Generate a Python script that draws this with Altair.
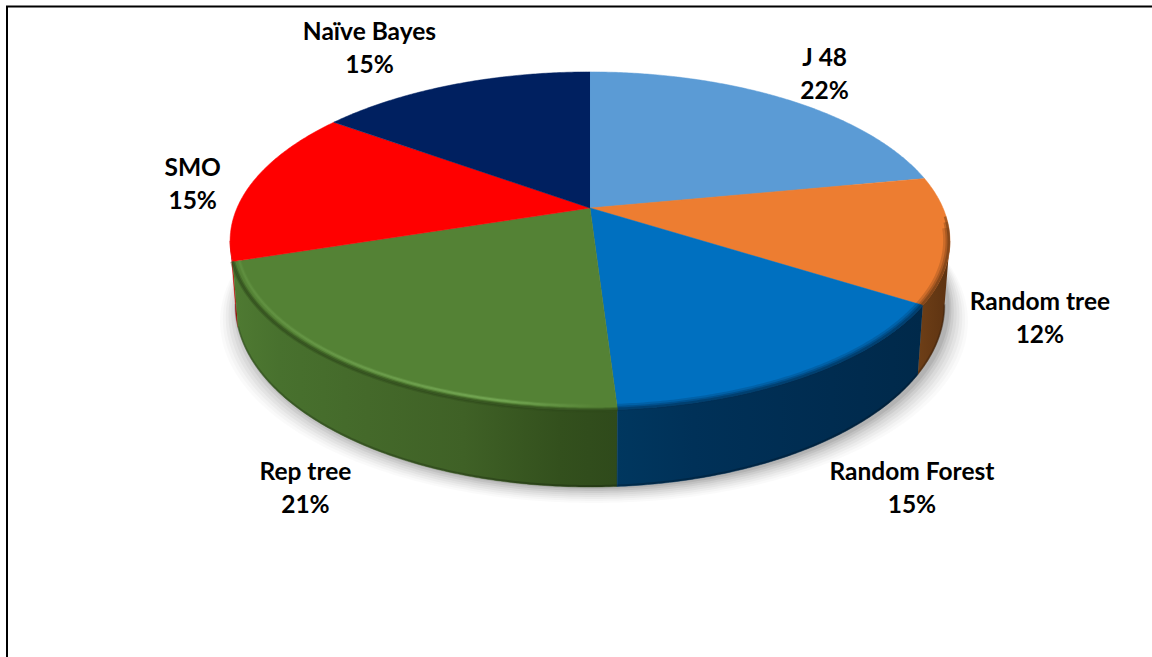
import numpy as np
import pandas as pd
import altair as alt

# Classifier shares, clockwise from twelve o'clock
categories = ["J 48", "Random tree", "Random Forest", "Rep tree", "SMO", "Naïve Bayes"]
shares = [22, 12, 15, 21, 15, 15]
top_colors = ["#5b9bd5", "#ed7d31", "#0070c0", "#548235", "#ff0000", "#002060"]

# Page geometry of the tilted disc
W, H = 1152, 657
CX, CY = 590.0, 208.0
RX, RY, TILT = 353.0, 162.6, 0.195
DEPTH, BASE_SHRINK = 62.0, 0.985

# Label placement relative to the rim point of each slice's middle angle
label_nudge = [(39, -40), (90, 63), (106, 97), (-48, 105), (-59, -14), (-84, -52)]
LINE_GAP = 33

x_scale = alt.Scale(domain=[0, W], nice=False, zero=False)
y_scale = alt.Scale(domain=[H, 0], nice=False, zero=False)


def top_xy(deg, r=1.0):
    t = np.radians(deg)
    u, v = r * np.sin(t), r * np.cos(t)
    w = 1 + TILT * v
    return CX + RX * u / w, CY - RY * v / w


def base_xy(deg, r=1.0, grow=0.0):
    t = np.radians(deg)
    u, v = r * np.sin(t), r * np.cos(t)
    w = 1 + TILT * v
    return CX + (1 + grow) * BASE_SHRINK * RX * u / w, CY - RY * v / w + DEPTH / w


def arc_angles(a, b):
    return np.linspace(a, b, max(int(abs(b - a) * 2), 2))


def path_frame(xs, ys):
    return pd.DataFrame({"x": xs, "y": ys, "i": np.arange(len(xs))})


def path_layer(xs, ys, **mark):
    return (
        alt.Chart(path_frame(xs, ys))
        .mark_line(interpolate="linear", **mark)
        .encode(
            x=alt.X("x:Q", scale=x_scale, axis=None),
            y=alt.Y("y:Q", scale=y_scale, axis=None),
            order="i:Q",
        )
    )


def h_gradient(stops):
    return alt.Gradient(
        gradient="linear",
        x1=0, x2=1, y1=0, y2=0,
        stops=[alt.GradientStop(offset=o, color=c) for o, c in stops],
    )


edges = np.concatenate([[0], np.cumsum(shares)]) * 3.6
layers = []

# Soft ground shadow: stacked translucent copies of the base outline
ring = np.linspace(0, 360, 361)
for grow, lift, alpha in [
    (0.055, 16, 0.02), (0.047, 14, 0.025), (0.039, 12, 0.03), (0.031, 10, 0.035),
    (0.023, 8, 0.04), (0.015, 6, 0.05), (0.008, 4, 0.06), (0.003, 2, 0.07),
]:
    sx, sy = base_xy(ring, grow=grow)
    layers.append(path_layer(sx + 4, sy + lift, fill="#000000", fillOpacity=alpha, strokeOpacity=0))

# Visible side walls run between the two silhouette angles
FRONT_START, FRONT_END = 101.2, 258.8
wall_fills = {
    1: [(0, "#6e3f17"), (1, "#5c3211")],
    2: [(0, "#00375f"), (0.25, "#003158"), (0.7, "#002c50"), (1, "#00294a")],
    3: [(0, "#4f7a32"), (0.12, "#48712e"), (0.35, "#44692a"), (0.6, "#3f6126"), (0.85, "#33501d"), (1, "#2f4a1b")],
    4: [(0, "#cc0000"), (1, "#cc0000")],
}
for idx in [4, 1, 3, 2]:
    a = max(edges[idx], FRONT_START)
    b = min(edges[idx + 1], FRONT_END)
    ang = arc_angles(a, b)
    tx, ty = top_xy(ang)
    bx, by = base_xy(ang[::-1])
    fill = h_gradient(wall_fills[idx])
    layers.append(path_layer(np.r_[tx, bx], np.r_[ty, by], fill=fill, stroke=fill, strokeWidth=0.5))
    # Dark soft lower edge of the wall
    layers.append(path_layer(bx, by - 1, stroke="#000000", strokeOpacity=0.2, strokeWidth=2))

# Top surface wedges, each from the disc centre out along its arc
for idx, color in enumerate(top_colors):
    ang = arc_angles(edges[idx], edges[idx + 1])
    tx, ty = top_xy(ang)
    layers.append(path_layer(np.r_[CX, tx], np.r_[CY, ty], fill=color, stroke=color, strokeWidth=0.5))

# Bevel on the rim: shading over the orange and blue, a highlight over the green
for idx, shade in [(1, "#5c3211"), (2, "#002c50")]:
    for width, alpha, start in [(7, 0.22, 97), (4.5, 0.3, 95), (2.5, 0.45, 93)]:
        ang = arc_angles(max(edges[idx], start), edges[idx + 1])
        tx, ty = top_xy(ang, r=1 - width / 2 / 400)
        layers.append(path_layer(tx, ty, stroke=shade, strokeOpacity=alpha, strokeWidth=width))

ang = arc_angles(edges[3], edges[4])
tx, ty = top_xy(ang, r=1.0)
for width, alpha in [(5, 0.4), (2.5, 0.6)]:
    layers.append(path_layer(tx, ty, stroke="#2f4a1b", strokeOpacity=alpha, strokeWidth=width))
hx, hy = top_xy(ang, r=0.983)
highlight = h_gradient([(0, "#5f8f3f"), (0.4, "#6d9f4d"), (0.7, "#74a854"), (0.95, "#558235"), (1, "#548235")])
layers.append(path_layer(hx, hy, stroke=highlight, strokeWidth=4, strokeOpacity=0.35))
layers.append(path_layer(hx, hy, stroke=highlight, strokeWidth=2, strokeOpacity=0.85))

# Two-line labels: classifier name above its percentage
mids = (edges[:-1] + edges[1:]) / 2
rx_pts, ry_pts = top_xy(mids)
labels = pd.DataFrame({
    "name": categories,
    "pct": [f"{s}%" for s in shares],
    "x": rx_pts + np.array([n[0] for n in label_nudge]),
    "y": ry_pts + np.array([n[1] for n in label_nudge]),
})
labels["y2"] = labels["y"] + LINE_GAP
text_style = dict(font="Lato", fontWeight="bold", fontSize=24.5, color="#000000", align="center", baseline="middle")
for y_field, text_field in [("y", "name"), ("y2", "pct")]:
    layers.append(
        alt.Chart(labels).mark_text(**text_style).encode(
            x=alt.X("x:Q", scale=x_scale, axis=None),
            y=alt.Y(f"{y_field}:Q", scale=y_scale, axis=None),
            text=f"{text_field}:N",
        )
    )

# Chart frame: top and left edges only
frame = pd.DataFrame({"x0": [6, 7], "x1": [W, 7], "y0": [6.5, 6], "y1": [6.5, H]})
layers.append(
    alt.Chart(frame).mark_rule(color="#000000", strokeWidth=2).encode(
        x=alt.X("x0:Q", scale=x_scale, axis=None),
        x2="x1:Q",
        y=alt.Y("y0:Q", scale=y_scale, axis=None),
        y2="y1:Q",
    )
)

chart = (
    alt.layer(*layers)
    .properties(width=W, height=H, padding=0, autosize=alt.AutoSizeParams(type="none"), background="#ffffff")
    .configure_view(stroke=None)
)
chart.save("out.html", embed_options={"renderer": "svg", "actions": False})
